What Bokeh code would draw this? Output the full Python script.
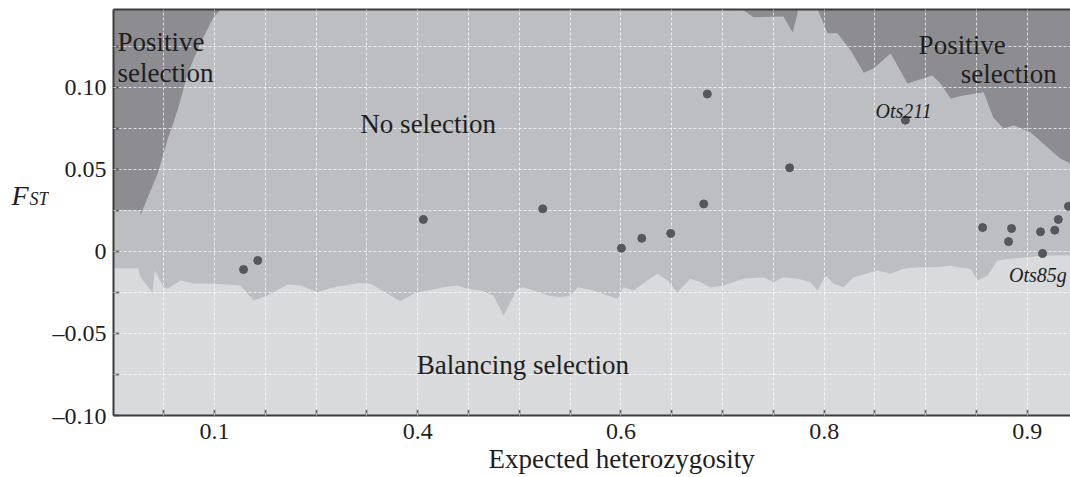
from bokeh.plotting import figure
from bokeh.layouts import row
from bokeh.models import FixedTicker, Label, Range1d, LinearAxis, Title
from bokeh.embed import file_html
from bokeh.resources import INLINE

# ---- axis definitions (x axis is drawn in evenly spaced tick units) ----
x_major = [0, 4, 8, 12, 16]
x_labels = ["0.1", "0.4", "0.6", "0.8", "0.9"]
x_minor = [-1, 1, 2, 3, 5, 6, 7, 9, 10, 11, 13, 14, 15]
y_major = [-0.10, -0.05, 0.0, 0.05, 0.10]
y_labels = ["\u20130.10", "\u20130.05", "0", "0.05", "0.10"]
y_minor = [-0.075, -0.025, 0.025, 0.075, 0.125]

# ---- loci (expected heterozygosity position, FST) ----
loci_x = [0.57, 0.85, 4.11, 6.46, 8.01, 8.41, 8.98, 9.63, 9.70, 11.32, 13.60,
          15.12, 15.69, 15.63, 16.26, 16.54, 16.61, 16.81, 16.30]
loci_fst = [-0.011, -0.0055, 0.0195, 0.026, 0.002, 0.008, 0.011, 0.029, 0.096,
            0.051, 0.080, 0.0146, 0.014, 0.006, 0.012, 0.013, 0.0195, 0.0275, -0.0012]

# ---- upper confidence limit (positive selection above) ----
upper_x = [-1.99, -1.46, -1.46, -1.12, -0.93, -0.73, -0.53, -0.28, -0.02, 0.12,
           0.2, 10.3, 10.39, 10.61, 11.2, 11.38, 11.48, 11.52, 11.83, 11.87,
           12.07, 12.26, 12.52, 12.78, 12.97, 13.31, 13.64, 13.84, 14.13, 14.29,
           14.49, 14.74, 15.14, 15.33, 15.53, 15.73, 16.06, 16.40, 16.65, 16.85]
upper_y = [0.0256, 0.025, 0.022, 0.0476, 0.0677, 0.086, 0.1085, 0.127, 0.1427, 0.1475,
           0.16, 0.16, 0.1475, 0.1427, 0.1433, 0.1335, 0.1457, 0.16, 0.16, 0.1475,
           0.133, 0.133, 0.1226, 0.109, 0.1116, 0.1207, 0.1024, 0.1043, 0.1073, 0.1024,
           0.0933, 0.0951, 0.097, 0.0817, 0.075, 0.0768, 0.0726, 0.0634, 0.0567, 0.0537]

# ---- lower confidence limit (balancing selection below) ----
lower_x = [-1.99, -1.50, -1.46, -1.22, -1.18, -1.0, -0.93, -0.67, -0.41, -0.02,
           0.51, 0.77, 1.04, 1.44, 1.69, 2.03, 2.34, 2.87, 3.07, 3.41,
           3.66, 3.92, 4.19, 4.51, 4.78, 4.98, 5.24, 5.49, 5.69, 5.96,
           6.08, 6.28, 6.56, 6.81, 7.01, 7.15, 7.46, 7.74, 7.93, 8.05,
           8.25, 8.52, 8.72, 8.92, 9.11, 9.37, 9.57, 9.76, 10.02, 10.41,
           10.81, 11.0, 11.2, 11.48, 11.73, 11.87, 12.03, 12.19, 12.38, 12.58,
           13.05, 13.31, 13.56, 13.84, 14.23, 14.49, 14.63, 14.88, 15.02, 15.22,
           15.41, 15.67, 16.0, 16.32, 16.85]
lower_y = [-0.0102, -0.0102, -0.0157, -0.0248, -0.0116, -0.0218, -0.0228, -0.0177, -0.0197, -0.0197,
           -0.0207, -0.0299, -0.0268, -0.0201, -0.0207, -0.0248, -0.0218, -0.0192, -0.0197, -0.0258,
           -0.0303, -0.0258, -0.0238, -0.0218, -0.0207, -0.0228, -0.0238, -0.0268, -0.039, -0.0228,
           -0.0218, -0.0238, -0.0268, -0.0279, -0.0268, -0.0218, -0.0238, -0.0268, -0.0289, -0.0218,
           -0.0238, -0.0177, -0.0136, -0.0177, -0.0248, -0.0167, -0.0187, -0.022, -0.0207, -0.0167,
           -0.0157, -0.0187, -0.0157, -0.0167, -0.0187, -0.0238, -0.0146, -0.0197, -0.0218, -0.0157,
           -0.0116, -0.0136, -0.0106, -0.0096, -0.0096, -0.0085, -0.0096, -0.0106, -0.0177, -0.0146,
           -0.0055, -0.0045, -0.0035, -0.0024, -0.0024]

SERIF = "Liberation Serif"
DARK = "#8d8d91"
MID = "#bdbec1"
LIGHT = "#d9dadc"
INK = "#1e1e1e"
FRAME = "#3c3c3c"

LEFT_W = 49

p = figure(width=1070 - LEFT_W, height=477, output_backend="svg", toolbar_location=None,
           x_range=Range1d(-1.99, 16.85), y_range=Range1d(-0.10, 0.1475),
           min_border_left=113 - LEFT_W, min_border_right=0, min_border_top=9,
           min_border_bottom=62)
p.background_fill_color = MID
p.border_fill_color = "white"
p.outline_line_color = None

p.varea(x=upper_x, y1=upper_y, y2=0.3, fill_color=DARK)
p.varea(x=lower_x, y1=-0.3, y2=lower_y, fill_color=LIGHT)

xt = FixedTicker(ticks=x_major, minor_ticks=x_minor)
yt = FixedTicker(ticks=y_major, minor_ticks=y_minor)
p.xaxis.ticker = xt
p.yaxis.ticker = yt
p.xgrid.ticker = xt
p.ygrid.ticker = yt
p.xaxis.major_label_overrides = {t: l for t, l in zip(x_major, x_labels)}
p.yaxis.major_label_overrides = {t: l for t, l in zip(y_major, y_labels)}

for ax in (p.xaxis, p.yaxis):
    ax.axis_line_color = FRAME
    ax.axis_line_width = 2
    ax.major_tick_in = 6
    ax.major_tick_out = 0
    ax.minor_tick_in = 6
    ax.minor_tick_out = 0
    ax.major_tick_line_color = FRAME
    ax.minor_tick_line_color = FRAME
    ax.major_tick_line_width = 1.5
    ax.minor_tick_line_width = 1.5
    ax.major_label_text_font = SERIF
    ax.major_label_text_font_size = "24px"
    ax.major_label_text_color = INK
p.xaxis.major_label_standoff = 8
p.yaxis.major_label_standoff = 7

# top frame line (no ticks, no labels)
top = LinearAxis(ticker=FixedTicker(ticks=[]), axis_line_color=FRAME, axis_line_width=2,
                 major_tick_in=0, major_tick_out=0, minor_tick_in=0, minor_tick_out=0,
                 major_label_text_font_size="0px")
p.add_layout(top, "above")

# x axis title
p.add_layout(Title(text="Expected heterozygosity", align="left", offset=375,
                   text_font=SERIF, text_font_size="27px", text_font_style="normal",
                   text_color=INK, standoff=0), "below")

for g in (p.xgrid, p.ygrid):
    g.level = "guide"
    g.grid_line_color = "white"
    g.grid_line_alpha = 0.7
    g.grid_line_dash = "3 2"
    g.grid_line_width = 1
    g.minor_grid_line_color = "white"
    g.minor_grid_line_alpha = 0.7
    g.minor_grid_line_dash = "3 2"
    g.minor_grid_line_width = 1

pts = p.scatter(x=loci_x, y=loci_fst, size=8, fill_color="#56575b",
                line_color="#56575b")
pts.level = "annotation"


def lab(fig, x, y, text, size, align="left", style="normal"):
    fig.add_layout(Label(x=x, y=y, text=text, text_font=SERIF,
                         text_font_size=size, text_color=INK, text_align=align,
                         text_baseline="alphabetic", text_font_style=style))


# region labels
lab(p, -1.91, 0.1274, "Positive", "27px")
lab(p, -1.91, 0.1085, "selection", "27px")
lab(p, 2.87, 0.078, "No selection", "27px")
lab(p, 13.86, 0.1256, "Positive", "27px")
lab(p, 14.69, 0.1079, "selection", "27px")
lab(p, 3.98, -0.0695, "Balancing selection", "27px")
# locus labels
lab(p, 13.01, 0.0854, "Ots211", "20px", style="italic")
lab(p, 15.64, -0.0146, "Ots85g", "20px", style="italic")

# y axis title panel (F with subscript ST), pixel coordinates from the top
q = figure(width=LEFT_W, height=477, output_backend="svg", toolbar_location=None,
           x_range=Range1d(0, LEFT_W), y_range=Range1d(477, 0), min_border=0)
q.axis.visible = False
q.grid.visible = False
q.outline_line_color = None
q.background_fill_color = "white"
q.border_fill_color = "white"
lab(q, 11, 218, "F", "28px", style="italic")
lab(q, 29, 223, "ST", "18px", style="italic")

layout = row(q, p, spacing=0)
open("out.html", "w").write(file_html(layout, INLINE))
